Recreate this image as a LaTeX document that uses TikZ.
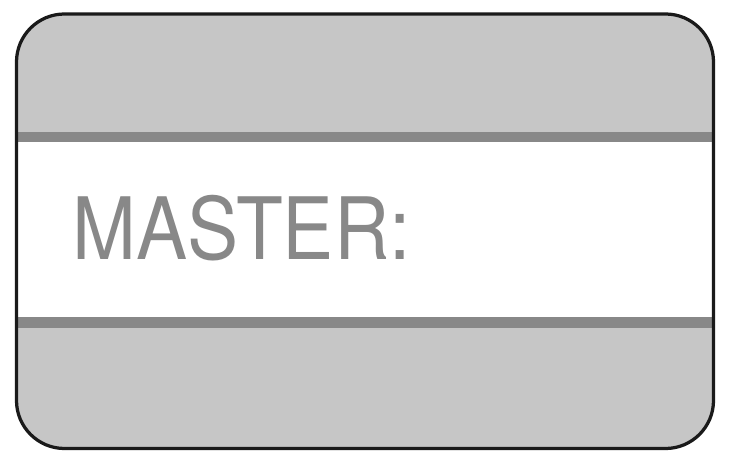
\documentclass[tikz,border=0pt]{standalone}
\usepackage{fontspec}
\setmainfont{TeX Gyre Heros}
\definecolor{cardgray}{HTML}{C6C6C6}
\definecolor{stripegray}{HTML}{888888}
\definecolor{edgeblack}{HTML}{1A1A1A}
\tikzset{
    card/.style={rounded corners=0.96cm},
    stripe/.style={fill=stripegray, draw=none}
}
\begin{document}
\begin{tikzpicture}[x=0.02cm, y=-0.02cm]
        \useasboundingbox (0, 0) rectangle (733, 469);
        \fill[cardgray, card] (16.5, 14) rectangle (713.5, 448.5);
        \fill[white] (16.5, 137) rectangle (713.5, 322);
        \fill[stripe] (16.5, 132) rectangle (713.5, 142);
        \fill[stripe] (16.5, 317.5) rectangle (713.5, 327.5);
        \draw[edgeblack, line width=0.065cm, card] (16.5, 14) rectangle (713.5, 448.5);
        \node[anchor=base west, inner sep=0, text=stripegray, xscale=0.89, font=\fontsize{49}{49}\selectfont] (master) at (72, 260) {MASTER:};
    \end{tikzpicture}
\end{document}
